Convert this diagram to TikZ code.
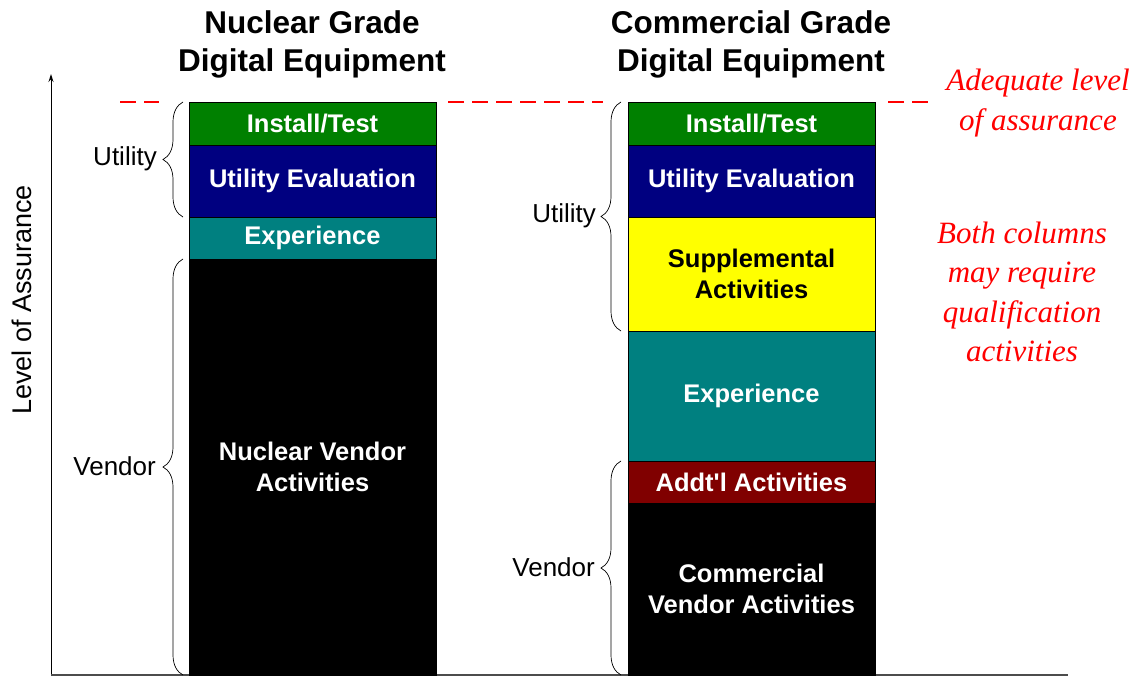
\documentclass[tikz,border=0pt]{standalone}
\usepackage{fontspec}
\setmainfont{Liberation Sans}
\newfontfamily\redserif{Liberation Serif}
\usetikzlibrary{decorations.pathreplacing,arrows.meta}
\definecolor{igreen}{HTML}{008000}
\definecolor{inavy}{HTML}{000080}
\definecolor{iteal}{HTML}{008080}
\definecolor{iyellow}{HTML}{FFFF00}
\definecolor{imaroon}{HTML}{800000}
\begin{document}
\begin{tikzpicture}[x=1pt,y=-1pt,
  blk/.style={draw=black, line width=0.8pt, inner sep=0pt, outer sep=0pt,
    minimum width=247pt, text=white, align=center,
    font=\bfseries\fontsize{25.5}{31}\selectfont},
  ttl/.style={align=center, font=\bfseries\fontsize{31.5}{38}\selectfont},
  side/.style={anchor=east, inner sep=0pt, font=\fontsize{26}{30}\selectfont},
  note/.style={align=center, text=red, font=\redserif\itshape\fontsize{31}{39.5}\selectfont},
  brc/.style={decorate, decoration={brace, amplitude=20pt}, line width=0.7pt},
  lvl/.style={red, line width=2.5pt, dash pattern=on 16pt off 8pt}
]
\useasboundingbox[fill=white] (0,0) rectangle (1143,677);

% titles
\node[ttl] (t1) at (312,44) {Nuclear Grade\\Digital Equipment};
\node[ttl] (t2) at (751,44) {Commercial Grade\\Digital Equipment};

% axis
\coordinate (ax0) at (51,676);
\coordinate (axtop) at (51,74);
\coordinate (axend) at (1068,675);
\draw[line width=1pt, -{Stealth[length=8pt,width=5pt]}] (ax0) -- (axtop);
\draw[line width=1.5pt, black!70] (51,675) -- (axend);
\node[rotate=90, font=\fontsize{27}{30}\selectfont] (lvl) at (22,300) {Level of Assurance};

% left column
\node[blk, fill=igreen, minimum height=43pt] (L1) at (312.5,123.5) {Install/Test};
\node[blk, fill=inavy, minimum height=72pt] (L2) at (312.5,181) {Utility Evaluation};
\node[blk, fill=iteal, minimum height=42pt] (L3) at (312.5,238) {Experience};
\node[blk, fill=black, minimum height=416pt] (L4) at (312.5,467) {Nuclear Vendor\\Activities};

% right column
\node[blk, fill=igreen, minimum height=43pt] (R1) at (751.5,123.5) {Install/Test};
\node[blk, fill=inavy, minimum height=72pt] (R2) at (751.5,181) {Utility Evaluation};
\node[blk, fill=iyellow, text=black, minimum height=114pt] (R3) at (751.5,274) {Supplemental\\Activities};
\node[blk, fill=iteal, minimum height=130pt] (R4) at (751.5,396) {Experience};
\node[blk, fill=imaroon, minimum height=42pt] (R5) at (751.5,482) {Addt\textquotesingle l Activities};
\node[blk, fill=black, minimum height=172pt] (R6) at (751.5,589) {Commercial\\Vendor Activities};

% adequate level line
\coordinate (d1a) at (120,102);
\coordinate (d1b) at (159,102);
\coordinate (d2a) at (448,102);
\coordinate (d2b) at (603,102);
\coordinate (d3a) at (888,102);
\coordinate (d3b) at (931,102);
\draw[lvl] (d1a) -- (d1b);
\draw[lvl] (d2a) -- (d2b);
\draw[lvl] (d3a) -- (d3b);

% braces
\coordinate (bLu0) at (183,217);
\coordinate (bLu1) at (183,102);
\coordinate (bLv0) at (183,675);
\coordinate (bLv1) at (183,259);
\coordinate (bRu0) at (621,331);
\coordinate (bRu1) at (621,102);
\coordinate (bRv0) at (621,675);
\coordinate (bRv1) at (621,461);
\draw[brc] (bLu0) -- (bLu1);
\draw[brc] (bLv0) -- (bLv1);
\draw[brc] (bRu0) -- (bRu1);
\draw[brc] (bRv0) -- (bRv1);
\node[side] (uL) at (157,159) {Utility};
\node[side] (vL) at (156,466) {Vendor};
\node[side] (uR) at (596,216) {Utility};
\node[side] (vR) at (595,567) {Vendor};

% notes
\node[note] (n1) at (1038,103) {Adequate level\\of assurance};
\node[note] (n2) at (1022,292) {Both columns\\may require\\qualification\\activities};
\end{tikzpicture}
\end{document}
